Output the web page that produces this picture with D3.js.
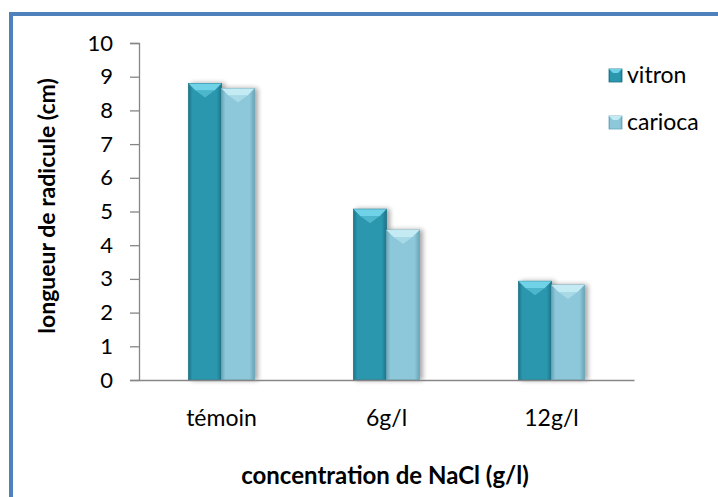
<!DOCTYPE html>
<html><head><meta charset="utf-8">
<script src="https://cdn.jsdelivr.net/npm/d3@7"></script>
<style>body{margin:0;background:#fff}svg{display:block}text{font-family:Lato,"Open Sans",sans-serif}</style>
</head><body><div id="chart"></div>
<script>
const categories = ["témoin", "6g/l", "12g/l"];
const seriesNames = ["vitron", "carioca"];
const vitron = [8.8, 5.07, 2.93];
const carioca = [8.65, 4.45, 2.82];
const yTicks = [0,1,2,3,4,5,6,7,8,9,10];
const yTitle = "longueur de radicule (cm)";
const xTitle = "concentration de NaCl (g/l)";

const W = 718, H = 497;
const svg = d3.select("#chart").append("svg").attr("width", W).attr("height", H);
const defs = svg.append("defs");

const palette = {
  vitron: {main: "#2B97AF", dark: "#1D7488", light: "#5CC3D8", top: "#6FD2E6"},
  carioca: {main: "#8CC8DA", dark: "#6AA6B8", light: "#B3E0EC", top: "#C4EAF4"}
};
seriesNames.forEach(s => {
  const p = palette[s];
  const g = defs.append("linearGradient").attr("id", "grad-" + s).attr("x1", 0).attr("x2", 1).attr("y1", 0).attr("y2", 0);
  g.append("stop").attr("offset", "0%").attr("stop-color", p.dark);
  g.append("stop").attr("offset", "12%").attr("stop-color", p.main);
  g.append("stop").attr("offset", "85%").attr("stop-color", p.main);
  g.append("stop").attr("offset", "100%").attr("stop-color", p.dark);
});
const f = defs.append("filter").attr("id", "shadow").attr("x", "-20%").attr("y", "-5%").attr("width", "160%").attr("height", "110%");
f.append("feGaussianBlur").attr("in", "SourceAlpha").attr("stdDeviation", 2.5).attr("result", "b");
f.append("feOffset").attr("in", "b").attr("dx", 3).attr("dy", 0).attr("result", "o");
f.append("feComponentTransfer").attr("in", "o").attr("result", "o2").append("feFuncA").attr("type", "linear").attr("slope", 0.35);
const m = f.append("feMerge"); m.append("feMergeNode").attr("in", "o2"); m.append("feMergeNode").attr("in", "SourceGraphic");

// frame (cropped at right/bottom)
svg.append("rect").attr("x", 11).attr("y", 14).attr("width", 800).attr("height", 600)
  .attr("fill", "none").attr("stroke", "#4F81BD").attr("stroke-width", 4);

const y = d3.scaleLinear().domain([0, 10]).range([380, 43]);
const x = d3.scaleBand().domain(categories).range([139, 634]).paddingInner(0.6).paddingOuter(0.3);
const xs = d3.scaleBand().domain(seriesNames).range([0, x.bandwidth()]);

// y axis
const yAxis = d3.axisLeft(y).tickValues(yTicks).tickSize(9).tickPadding(17).tickFormat(d3.format("d"));
const ga = svg.append("g").attr("transform", "translate(139,0)").call(yAxis);
ga.select(".domain").attr("stroke", "#868686").attr("stroke-width", 1.3);
ga.selectAll(".tick line").attr("stroke", "#868686").attr("stroke-width", 1.3);
ga.selectAll(".tick text").attr("font-size", 22).attr("fill", "#000").attr("font-family", "Lato, sans-serif");

// bars
const data = categories.map((c, i) => ({c, vals: [{s: "vitron", v: vitron[i]}, {s: "carioca", v: carioca[i]}]}));
const groups = svg.append("g").selectAll("g").data(data).join("g").attr("transform", d => `translate(${x(d.c)},0)`);
const bars = groups.selectAll("g").data(d => d.vals).join("g").attr("filter", "url(#shadow)");
bars.append("rect").attr("x", d => xs(d.s)).attr("y", d => y(d.v)).attr("width", xs.bandwidth()).attr("height", d => y(0) - y(d.v))
  .attr("fill", d => `url(#grad-${d.s})`).attr("stroke", d => palette[d.s].dark).attr("stroke-width", 0.8);
bars.append("path").attr("d", d => {
  const x0 = xs(d.s), w = xs.bandwidth(), t = y(d.v), b = 7;
  return `M${x0},${t} L${x0 + w},${t} L${x0 + w - b},${t + b} L${x0 + b},${t + b} Z`;
}).attr("fill", d => palette[d.s].top);
bars.append("path").attr("d", d => {
  const x0 = xs(d.s), w = xs.bandwidth(), t = y(d.v), b = 7;
  return `M${x0 + b},${t + b} L${x0 + w - b},${t + b} L${x0 + w / 2},${t + 14} Z`;
}).attr("fill", d => palette[d.s].light).attr("opacity", 0.7);

// x axis
const xAxis = d3.axisBottom(x).tickSize(0).tickPadding(30);
const gx = svg.append("g").attr("transform", "translate(0,380)").call(xAxis);
gx.select(".domain").attr("stroke", "#868686").attr("stroke-width", 1.3);
gx.selectAll(".tick text").attr("font-size", 23).attr("fill", "#000").attr("font-family", "Lato, sans-serif");

// titles
svg.append("text").attr("x", 385).attr("y", 484).attr("text-anchor", "middle").attr("font-size", 24).attr("font-weight", "bold").text(xTitle);
svg.append("text").attr("transform", "translate(55,206) rotate(-90)").attr("text-anchor", "middle").attr("font-size", 23).attr("font-weight", "bold").text(yTitle);

// legend
const lg = svg.append("g").selectAll("g").data(seriesNames).join("g").attr("transform", (d, i) => `translate(609,${75 + i * 47})`);
lg.append("rect").attr("x", 0).attr("y", -6).attr("width", 13).attr("height", 13).attr("fill", d => `url(#grad-${d})`).attr("stroke", d => palette[d].dark).attr("stroke-width", 0.8);
lg.append("path").attr("d", "M0,-6 L13,-6 L9,-2 L4,-2 Z").attr("fill", d => palette[d].top);
lg.append("text").attr("x", 18).attr("y", 0).attr("dy", "0.35em").attr("font-size", 23).text(d => d);
</script></body></html>
